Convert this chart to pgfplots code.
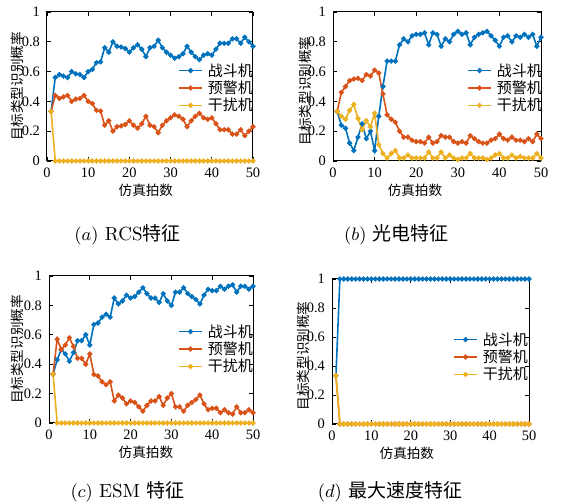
\documentclass[border=0pt]{standalone}
\usepackage{fontspec}
\usepackage{pgfplots}
\usepackage{pgfplotstable}
\pgfplotsset{compat=1.18}
\newfontfamily\cjk{Noto Sans CJK SC}
\newfontfamily\tms{Liberation Serif}
\definecolor{cB}{RGB}{0,114,189}
\definecolor{cR}{RGB}{217,83,25}
\definecolor{cY}{RGB}{237,177,32}

\pgfplotstableread{
k b r y
1 0.333 0.333 0.333
2 0.56 0.44 0
3 0.58 0.42 0
4 0.57 0.43 0
5 0.56 0.44 0
6 0.60 0.40 0
7 0.585 0.415 0
8 0.58 0.42 0
9 0.56 0.44 0
10 0.60 0.40 0
11 0.615 0.385 0
12 0.66 0.34 0
13 0.665 0.335 0
14 0.76 0.24 0
15 0.73 0.27 0
16 0.80 0.20 0
17 0.77 0.23 0
18 0.765 0.235 0
19 0.755 0.245 0
20 0.73 0.27 0
21 0.76 0.24 0
22 0.78 0.22 0
23 0.75 0.25 0
24 0.70 0.30 0
25 0.76 0.24 0
26 0.77 0.23 0
27 0.81 0.19 0
28 0.76 0.24 0
29 0.73 0.27 0
30 0.71 0.29 0
31 0.69 0.31 0
32 0.70 0.30 0
33 0.72 0.28 0
34 0.77 0.23 0
35 0.73 0.27 0
36 0.70 0.30 0
37 0.68 0.32 0
38 0.71 0.29 0
39 0.72 0.28 0
40 0.71 0.29 0
41 0.75 0.25 0
42 0.79 0.21 0
43 0.79 0.21 0
44 0.79 0.21 0
45 0.82 0.18 0
46 0.82 0.18 0
47 0.79 0.21 0
48 0.83 0.17 0
49 0.80 0.20 0
50 0.77 0.23 0
}\dataA

\pgfplotstableread{
k b r y
1 0.333 0.333 0.333
2 0.24 0.46 0.30
3 0.22 0.50 0.28
4 0.12 0.54 0.34
5 0.07 0.55 0.38
6 0.16 0.555 0.285
7 0.25 0.54 0.21
8 0.15 0.58 0.27
9 0.20 0.57 0.23
10 0.07 0.61 0.32
11 0.30 0.59 0.11
12 0.50 0.45 0.05
13 0.67 0.31 0.02
14 0.67 0.28 0.05
15 0.67 0.26 0.07
16 0.78 0.20 0.02
17 0.82 0.16 0.02
18 0.80 0.16 0.04
19 0.84 0.14 0.02
20 0.85 0.13 0.02
21 0.85 0.13 0.02
22 0.86 0.12 0.02
23 0.78 0.16 0.06
24 0.86 0.12 0.02
25 0.85 0.13 0.02
26 0.77 0.17 0.06
27 0.82 0.16 0.02
28 0.80 0.16 0.04
29 0.85 0.13 0.02
30 0.87 0.12 0.01
31 0.85 0.13 0.02
32 0.86 0.12 0.02
33 0.78 0.17 0.05
34 0.83 0.15 0.02
35 0.85 0.13 0.02
36 0.86 0.12 0.02
37 0.87 0.12 0.01
38 0.84 0.14 0.02
39 0.81 0.15 0.04
40 0.77 0.18 0.05
41 0.83 0.15 0.02
42 0.84 0.14 0.02
43 0.80 0.16 0.04
44 0.84 0.14 0.02
45 0.83 0.14 0.03
46 0.85 0.13 0.02
47 0.83 0.15 0.02
48 0.85 0.13 0.02
49 0.77 0.18 0.05
50 0.83 0.15 0.02
}\dataB

\pgfplotstableread{
k b r y
1 0.333 0.333 0.333
2 0.43 0.57 0
3 0.50 0.50 0
4 0.47 0.53 0
5 0.42 0.58 0
6 0.48 0.52 0
7 0.56 0.44 0
8 0.56 0.44 0
9 0.60 0.40 0
10 0.53 0.47 0
11 0.67 0.33 0
12 0.68 0.32 0
13 0.72 0.28 0
14 0.74 0.26 0
15 0.72 0.28 0
16 0.85 0.15 0
17 0.81 0.19 0
18 0.83 0.17 0
19 0.87 0.13 0
20 0.85 0.15 0
21 0.86 0.14 0
22 0.89 0.11 0
23 0.92 0.08 0
24 0.88 0.12 0
25 0.85 0.15 0
26 0.85 0.15 0
27 0.82 0.18 0
28 0.88 0.12 0
29 0.83 0.17 0
30 0.80 0.20 0
31 0.89 0.11 0
32 0.89 0.11 0
33 0.92 0.08 0
34 0.88 0.12 0
35 0.86 0.14 0
36 0.84 0.16 0
37 0.81 0.19 0
38 0.87 0.13 0
39 0.91 0.09 0
40 0.90 0.10 0
41 0.90 0.10 0
42 0.93 0.07 0
43 0.91 0.09 0
44 0.93 0.07 0
45 0.94 0.06 0
46 0.89 0.11 0
47 0.93 0.07 0
48 0.93 0.07 0
49 0.91 0.09 0
50 0.93 0.07 0
}\dataC

\pgfplotstableread{
k b r y
1 0.333 0.333 0.333
2 1 0 0
3 1 0 0
4 1 0 0
5 1 0 0
6 1 0 0
7 1 0 0
8 1 0 0
9 1 0 0
10 1 0 0
11 1 0 0
12 1 0 0
13 1 0 0
14 1 0 0
15 1 0 0
16 1 0 0
17 1 0 0
18 1 0 0
19 1 0 0
20 1 0 0
21 1 0 0
22 1 0 0
23 1 0 0
24 1 0 0
25 1 0 0
26 1 0 0
27 1 0 0
28 1 0 0
29 1 0 0
30 1 0 0
31 1 0 0
32 1 0 0
33 1 0 0
34 1 0 0
35 1 0 0
36 1 0 0
37 1 0 0
38 1 0 0
39 1 0 0
40 1 0 0
41 1 0 0
42 1 0 0
43 1 0 0
44 1 0 0
45 1 0 0
46 1 0 0
47 1 0 0
48 1 0 0
49 1 0 0
50 1 0 0
}\dataD

\pgfplotsset{
  panel/.style={
    scale only axis, xmin=0, xmax=50, ymin=0, ymax=1,
    xtick={0,10,20,30,40,50}, ytick={0,0.2,0.4,0.6,0.8,1},
    tick align=inside, major tick length=2pt,
    tick style={black, line width=0.4pt},
    axis line style={black, line width=0.5pt},
    /pgf/number format/assume math mode=true,
    tick label style={font=\tms\fontsize{7.2}{8}\selectfont},
    xlabel={仿真拍数}, ylabel={目标类型识别概率},
    label style={font=\cjk\fontsize{6.8}{8}\selectfont},
    legend style={draw=none, fill=none, inner sep=0pt,
      font=\cjk\fontsize{7.5}{8}\selectfont,
      nodes={inner sep=0.6pt, text height=6.5pt, text depth=1pt},
      row sep=0pt, column sep=2pt},
    legend cell align=left,
    legend image code/.code={\draw[mark repeat=2,mark phase=2] plot coordinates {(0cm,0cm) (0.2cm,0cm) (0.4cm,0cm)};},
    every axis plot/.append style={line width=0.8pt, mark=*, mark size=0.85pt, mark options={solid}},
  },
}

\begin{document}
\begin{tikzpicture}
\path[use as bounding box] (0,0) rectangle (280.5pt,251pt);

% (a)
\begin{axis}[panel, at={(23.5pt,170.5pt)}, anchor=south west, width=103pt, height=74.5pt,
  xlabel style={at={(rel axis cs:0.48,0)}, anchor=center, yshift=-14.5pt},
  ylabel style={at={(rel axis cs:-0.146,0.5)}, anchor=center},
  legend style={at={(rel axis cs:0.636,0.49)}, anchor=west}]
\addplot[cB] table[x=k,y=b] {\dataA};
\addplot[cR] table[x=k,y=r] {\dataA};
\addplot[cY] table[x=k,y=y] {\dataA};
\legend{战斗机,预警机,干扰机}
\end{axis}

% (b)
\begin{axis}[panel, at={(166.5pt,170.5pt)}, anchor=south west, width=104pt, height=74.5pt,
  xlabel style={at={(rel axis cs:0.394,0)}, anchor=center, yshift=-14.5pt},
  ylabel style={at={(rel axis cs:-0.135,0.47)}, anchor=center},
  legend style={at={(rel axis cs:0.644,0.49)}, anchor=west}]
\addplot[cB] table[x=k,y=b] {\dataB};
\addplot[cR] table[x=k,y=r] {\dataB};
\addplot[cY] table[x=k,y=y] {\dataB};
\legend{战斗机,预警机,干扰机}
\end{axis}

% (c)
\begin{axis}[panel, at={(24.5pt,39.5pt)}, anchor=south west, width=102pt, height=73.5pt,
  xlabel style={at={(rel axis cs:0.475,0)}, anchor=center, yshift=-14.5pt},
  ylabel style={at={(rel axis cs:-0.157,0.5)}, anchor=center},
  legend style={at={(rel axis cs:0.632,0.503)}, anchor=west}]
\addplot[cB] table[x=k,y=b] {\dataC};
\addplot[cR] table[x=k,y=r] {\dataC};
\addplot[cY] table[x=k,y=y] {\dataC};
\legend{战斗机,预警机,干扰机}
\end{axis}

% (d)
\begin{axis}[panel, at={(166pt,39pt)}, anchor=south west, width=98.5pt, height=72.5pt,
  xlabel style={at={(rel axis cs:0.38,0)}, anchor=center, yshift=-14.5pt},
  ylabel style={at={(rel axis cs:-0.147,0.47)}, anchor=center},
  legend style={at={(rel axis cs:0.614,0.462)}, anchor=west}]
\addplot[cB] table[x=k,y=b] {\dataD};
\addplot[cR] table[x=k,y=r] {\dataD};
\addplot[cY] table[x=k,y=y] {\dataD};
\legend{战斗机,预警机,干扰机}
\end{axis}

\node[font=\fontsize{9.5}{11}\selectfont] at (63.75pt,133.5pt) {$(a)$\ RCS{\cjk 特征}};
\node[font=\fontsize{9.5}{11}\selectfont] at (198.25pt,133.5pt) {$(b)$\ {\cjk 光电特征}};
\node[font=\fontsize{9.5}{11}\selectfont] at (63.75pt,5pt) {$(c)$\ ESM {\cjk 特征}};
\node[font=\fontsize{9.5}{11}\selectfont] at (195pt,5pt) {$(d)$\ {\cjk 最大速度特征}};
\end{tikzpicture}
\end{document}
